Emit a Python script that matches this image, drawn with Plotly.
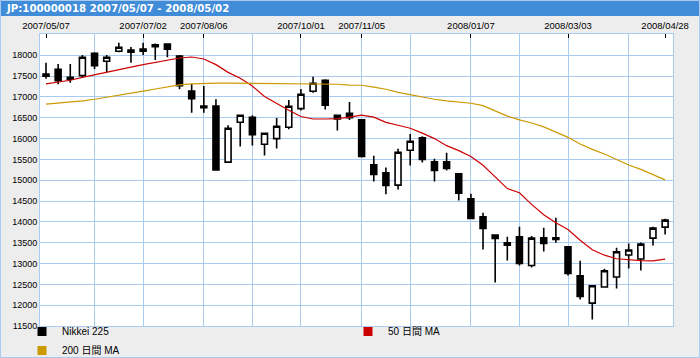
import plotly.graph_objects as go

# ---------------- data ----------------
dates = [
    "2007-05-07", "2007-05-14", "2007-05-21", "2007-05-28",
    "2007-06-04", "2007-06-11", "2007-06-18", "2007-06-25",
    "2007-07-02", "2007-07-09", "2007-07-16", "2007-07-23", "2007-07-30",
    "2007-08-06", "2007-08-13", "2007-08-20", "2007-08-27",
    "2007-09-03", "2007-09-10", "2007-09-17", "2007-09-24",
    "2007-10-01", "2007-10-08", "2007-10-15", "2007-10-22", "2007-10-29",
    "2007-11-05", "2007-11-12", "2007-11-19", "2007-11-26",
    "2007-12-03", "2007-12-10", "2007-12-17", "2007-12-24", "2007-12-31",
    "2008-01-07", "2008-01-14", "2008-01-21", "2008-01-28",
    "2008-02-04", "2008-02-11", "2008-02-18", "2008-02-25",
    "2008-03-03", "2008-03-10", "2008-03-17", "2008-03-24", "2008-03-31",
    "2008-04-07", "2008-04-14", "2008-04-21", "2008-04-28",
]

open_ = [17496, 17664, 17424, 17511, 18048, 17856, 18096, 18072, 18096, 18206,
         18271, 17983, 17144, 16784, 16784, 15434, 16393, 16513, 15865, 16000,
         16273, 16720, 17137, 17400, 16561, 16609, 16448, 15369, 15177, 14882,
         15721, 16016, 15441, 15441, 15153, 14553, 14122, 13683, 13443, 13642,
         12954, 13618, 13618, 13402, 12706, 12049, 12435, 12675, 13203, 13107,
         13611, 13875]
high = [17823, 17791, 17791, 18007, 18072, 18007, 18302, 18200, 18302, 18280,
        18280, 18007, 17312, 17264, 16945, 16321, 16561, 16561, 16129, 16496,
        16928, 17192, 17487, 17424, 16561, 16880, 16460, 15585, 15304, 15753,
        16112, 16057, 15513, 15657, 15153, 14673, 14218, 13683, 13642, 13882,
        13659, 13858, 14098, 13402, 13066, 12467, 12874, 13378, 13482, 13506,
        13882, 14074]
low = [17439, 17304, 17343, 17472, 17671, 17592, 18072, 17823, 18007, 17887,
       17952, 17184, 16623, 16623, 15225, 15434, 15808, 15832, 15592, 15760,
       16225, 16672, 17103, 16696, 16192, 16448, 15544, 14969, 14666, 14777,
       15352, 15424, 14969, 15232, 14513, 14081, 13337, 12546, 13073, 12954,
       12906, 13289, 13498, 12714, 12138, 11658, 12435, 12402, 12882, 12834,
       13433, 13697]
close = [17551, 17391, 17472, 17952, 17751, 17952, 18192, 18127, 18151, 18254,
         18144, 17271, 16960, 16743, 15249, 16249, 16561, 16096, 16129, 16297,
         16777, 17065, 17328, 16801, 16473, 16504, 15568, 15137, 14872, 15673,
         15937, 15496, 15232, 15281, 14690, 14081, 13841, 13601, 13498, 13002,
         13611, 13481, 13577, 12762, 12210, 12467, 12826, 13282, 13323, 13467,
         13851, 14043]

ma50 = [17312, 17350, 17400, 17470, 17535, 17595, 17650, 17715, 17775, 17830,
        17887, 17935, 17959, 17910, 17775, 17590, 17448, 17260, 17010, 16840,
        16680, 16530, 16470, 16470, 16480, 16513, 16561, 16515, 16390, 16320,
        16249, 16130, 16000, 15830, 15710, 15570, 15360, 15080, 14800, 14700,
        14420, 14170, 13980, 13815, 13560, 13330, 13200, 13115, 13085, 13070,
        13066, 13107]
ma200 = [16825, 16850, 16875, 16905, 16945, 16990, 17035, 17085, 17140, 17190,
         17240, 17290, 17315, 17328, 17330, 17330, 17328, 17328, 17328, 17328,
         17325, 17315, 17312, 17312, 17305, 17285, 17280, 17235, 17185, 17110,
         17055, 16985, 16945, 16905, 16870, 16849, 16790, 16670, 16540, 16450,
         16375, 16280, 16160, 16030, 15870, 15740, 15630, 15500, 15365, 15260,
         15140, 15009]

label_dates = ["2007-05-07", "2007-07-02", "2007-08-06", "2007-10-01",
               "2007-11-05", "2008-01-07", "2008-03-03", "2008-04-28"]
label_text = ["2007/05/07", "2007/07/02", "2007/08/06", "2007/10/01",
              "2007/11/05", "2008/01/07", "2008/03/03", "2008/04/28"]
month_starts = ["2007-06-04", "2007-07-02", "2007-08-06", "2007-09-03",
                "2007-10-01", "2007-11-05", "2007-12-03", "2008-01-07",
                "2008-02-04", "2008-03-03", "2008-04-07"]
y_ticks = [11500, 12000, 12500, 13000, 13500, 14000, 14500, 15000, 15500,
           16000, 16500, 17000, 17500, 18000]

title_text = "JP:100000018 2007/05/07 - 2008/05/02"
name_price = "Nikkei 225"
name_ma50 = "50 日間 MA"
name_ma200 = "200 日間 MA"

# ---------------- style ----------------
W, H = 700, 358
L, R, T, B = 40, 27, 34, 32
PW, PH = W - L - R, H - T - B
GRID = "#A9CBEF"
BG = "#EDEDED"
BAR = "#408CD8"
RED = "#CC0000"
GOLD = "#CC9900"
FONT = "Liberation Sans, Arial, Noto Sans CJK JP, sans-serif"


def px_x(px):
    return (px - L) / PW


def px_y(py):
    return (H - B - py) / PH


fig = go.Figure()

fig.add_trace(go.Candlestick(
    x=dates, open=open_, high=high, low=low, close=close,
    increasing=dict(line=dict(color="black", width=1.6), fillcolor="white"),
    decreasing=dict(line=dict(color="black", width=1.6), fillcolor="black"),
    whiskerwidth=0, showlegend=False, name=name_price, hoverinfo="skip",
))
fig.add_trace(go.Scatter(x=dates, y=ma50, mode="lines",
                         line=dict(color=RED, width=1.2), showlegend=False,
                         name=name_ma50))
fig.add_trace(go.Scatter(x=dates, y=ma200, mode="lines",
                         line=dict(color=GOLD, width=1.2), showlegend=False,
                         name=name_ma200))

# legend entries (square swatches), two legend blocks
for nm, col, lg in [(name_price, "black", "legend"),
                    (name_ma200, GOLD, "legend"),
                    (name_ma50, RED, "legend2")]:
    fig.add_trace(go.Scatter(x=[None], y=[None], mode="markers", name=nm,
                             legend=lg,
                             marker=dict(symbol="square", size=9, color=col)))

legend_common = dict(orientation="v", xref="container", yref="container",
                     xanchor="left", yanchor="top",
                     bgcolor="rgba(0,0,0,0)", font=dict(size=10, family=FONT),
                     itemclick=False, traceorder="normal", tracegroupgap=0)

fig.update_layout(
    width=W, height=H,
    margin=dict(l=L, r=R, t=T, b=B, pad=0, autoexpand=False),
    paper_bgcolor=BG, plot_bgcolor="white",
    font=dict(family=FONT, size=10, color="black"),
    title=dict(text=title_text, x=7 / W, xref="container", xanchor="left",
               y=1 - 8.5 / H, yref="container", yanchor="middle",
               font=dict(family="DejaVu Sans, sans-serif", size=10.2,
                         color="white", weight=700)),
    showlegend=True,
    legend=dict(x=22 / W, y=1 - 317 / H, **legend_common),
    legend2=dict(x=348 / W, y=1 - 317 / H, **legend_common),
    xaxis=dict(
        type="date", side="top", automargin=False,
        range=["2007-05-03 13:00", "2008-05-02 13:00"],
        tickmode="array", tickvals=label_dates, ticktext=label_text,
        ticks="inside", ticklen=4, tickwidth=1, tickcolor="black",
        tickfont=dict(size=9.5, family=FONT),
        showgrid=False, zeroline=False,
        minor=dict(tickmode="array", tickvals=month_starts, showgrid=True,
                   gridcolor=GRID, gridwidth=1, ticks=""),
        showline=True, linecolor=GRID, linewidth=1, mirror=True,
        rangeslider=dict(visible=False), fixedrange=True,
    ),
    yaxis=dict(
        range=[11500, 18511], tickmode="array", tickvals=y_ticks,
        tickformat="d", automargin=False,
        ticks="", showgrid=True, gridcolor=GRID, gridwidth=1, zeroline=False,
        tickfont=dict(size=9, family=FONT),
        showline=True, linecolor=GRID, linewidth=1, mirror=True,
        fixedrange=True,
    ),
    shapes=[
        dict(type="rect", xref="paper", yref="paper", layer="below",
             x0=px_x(0), x1=px_x(W), y0=px_y(16), y1=px_y(0),
             fillcolor=BAR, line=dict(width=0)),
        dict(type="rect", xref="paper", yref="paper", layer="above",
             x0=px_x(0.5), x1=px_x(W - 0.5), y0=px_y(H - 0.5), y1=px_y(0.5),
             fillcolor="rgba(0,0,0,0)", line=dict(color=GRID, width=1)),
    ],
)

fig.write_html(
    "out.html",
    config={"displayModeBar": False},
    post_script="document.body.style.margin='0';document.body.style.padding='0';",
)
